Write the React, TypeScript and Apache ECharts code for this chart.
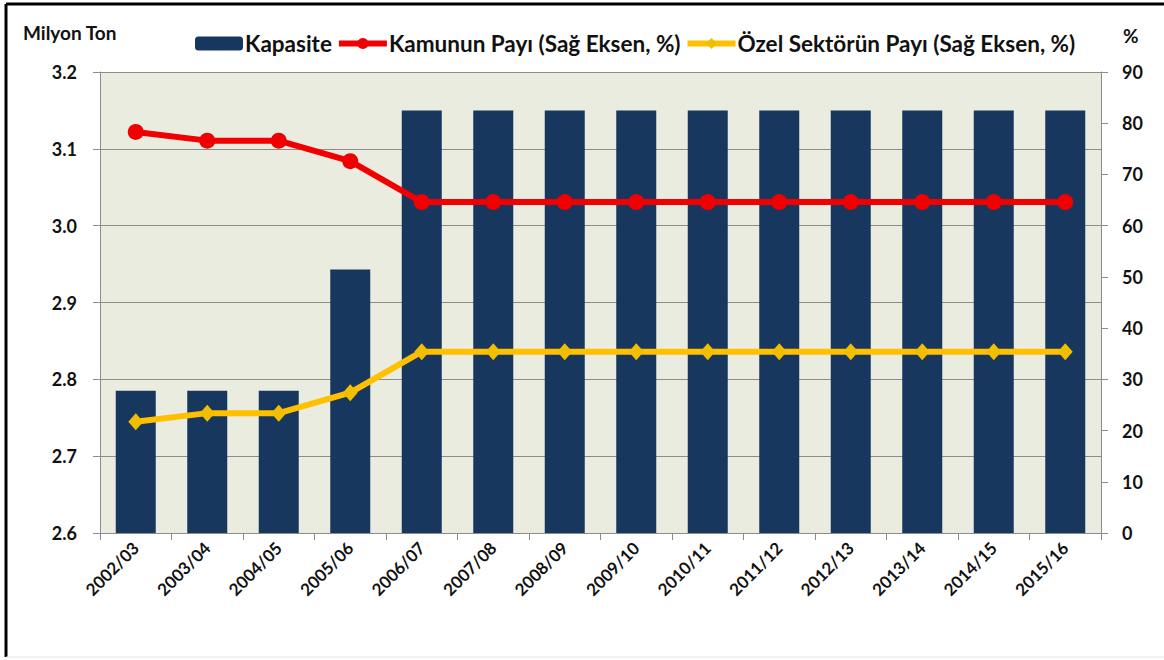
import React, { useEffect, useRef } from "react";
import * as echarts from "echarts";

const categories = [
  "2002/03", "2003/04", "2004/05", "2005/06", "2006/07", "2007/08", "2008/09",
  "2009/10", "2010/11", "2011/12", "2012/13", "2013/14", "2014/15", "2015/16",
];
const kapasite = [2.785, 2.785, 2.785, 2.943, 3.15, 3.15, 3.15, 3.15, 3.15, 3.15, 3.15, 3.15, 3.15, 3.15];
const kamuPayi = [78.3, 76.6, 76.6, 72.6, 64.6, 64.6, 64.6, 64.6, 64.6, 64.6, 64.6, 64.6, 64.6, 64.6];
const ozelPayi = [21.7, 23.4, 23.4, 27.4, 35.4, 35.4, 35.4, 35.4, 35.4, 35.4, 35.4, 35.4, 35.4, 35.4];
const seriesNames = ["Kapasite", "Kamunun Payı (Sağ Eksen, %)", "Özel Sektörün Payı (Sağ Eksen, %)"];
const leftAxisTitle = "Milyon Ton";
const rightAxisTitle = "%";

const FONT = "Lato, 'Open Sans', sans-serif";

export default function App() {
  const ref = useRef<HTMLDivElement>(null);
  useEffect(() => {
    document.body.style.margin = "0";
    const chart = echarts.init(ref.current!, null, { renderer: "svg" });
    const gray = "#8c8c8c";
    chart.setOption({
      animation: false,
      backgroundColor: "#ffffff",
      textStyle: { fontFamily: FONT },
      grid: {
        left: 100,
        right: 63,
        top: 72,
        bottom: 127,
        show: true,
        backgroundColor: "#EBECE0",
        borderWidth: 0,
      },
      legend: {
        left: 190,
        top: 27,
        itemWidth: 48,
        itemHeight: 14,
        itemGap: 4,
        textStyle: { fontSize: 22.5, fontWeight: "bold", color: "#111", fontFamily: FONT, padding: [0, 0, 0, -3] },
        data: [
          { name: seriesNames[0] },
          { name: seriesNames[1], lineStyle: { width: 6 } },
          { name: seriesNames[2], lineStyle: { width: 6 } },
        ],
      },
      graphic: [
        { type: "line", shape: { x1: 6, y1: 4, x2: 1164, y2: 4 }, style: { stroke: "#000", lineWidth: 3 } },
        { type: "line", shape: { x1: 6, y1: 4, x2: 6, y2: 657 }, style: { stroke: "#000", lineWidth: 3 } },
        { type: "line", shape: { x1: 6, y1: 657, x2: 1164, y2: 657 }, style: { stroke: "#e4e4e4", lineWidth: 1 } },
        {
          type: "text", left: 23, top: 23,
          style: { text: leftAxisTitle, font: `bold 19px ${FONT}`, fill: "#111" },
        },
        {
          type: "text", left: 1123, top: 26,
          style: { text: rightAxisTitle, font: `bold 19px ${FONT}`, fill: "#111" },
        },
      ],
      xAxis: {
        type: "category",
        data: categories,
        boundaryGap: true,
        axisLine: { show: true, lineStyle: { color: gray, width: 1 } },
        axisTick: { show: true, alignWithLabel: false, length: 7, lineStyle: { color: gray } },
        axisLabel: {
          rotate: 45,
          margin: 12,
          fontSize: 17,
          fontWeight: "bold",
          color: "#111",
          fontFamily: FONT,
          interval: 0,
        },
      },
      yAxis: [
        {
          type: "value",
          min: 2.6,
          max: 3.2,
          interval: 0.1,
          position: "left",
          axisLine: { show: true, lineStyle: { color: gray } },
          axisTick: { show: true, length: 7, lineStyle: { color: gray } },
          splitLine: { show: true, lineStyle: { color: gray, width: 1 } },
          axisLabel: {
            margin: 23,
            fontSize: 18,
            fontWeight: "bold",
            color: "#111",
            fontFamily: FONT,
            formatter: (v: number) => v.toFixed(1),
          },
        },
        {
          type: "value",
          min: 0,
          max: 90,
          interval: 10,
          position: "right",
          axisLine: { show: true, lineStyle: { color: gray } },
          axisTick: { show: true, length: 7, lineStyle: { color: gray } },
          splitLine: { show: false },
          axisLabel: {
            margin: 21,
            fontSize: 18,
            fontWeight: "bold",
            color: "#111",
            fontFamily: FONT,
          },
        },
      ],
      series: [
        {
          name: seriesNames[0],
          type: "bar",
          data: kapasite,
          yAxisIndex: 0,
          barWidth: 40,
          itemStyle: { color: "#17375E" },
          z: 2,
        },
        {
          name: seriesNames[1],
          type: "line",
          data: kamuPayi,
          yAxisIndex: 1,
          symbol: "circle",
          symbolSize: 16,
          lineStyle: { color: "#F00000", width: 6 },
          itemStyle: { color: "#F00000" },
          z: 3,
        },
        {
          name: seriesNames[2],
          type: "line",
          data: ozelPayi,
          yAxisIndex: 1,
          symbol: "diamond",
          symbolSize: [15, 17],
          lineStyle: { color: "#FFC000", width: 6 },
          itemStyle: { color: "#F2BE00" },
          z: 4,
        },
      ],
    });
    return () => chart.dispose();
  }, []);
  return <div ref={ref} style={{ width: 1164, height: 660 }} />;
}
